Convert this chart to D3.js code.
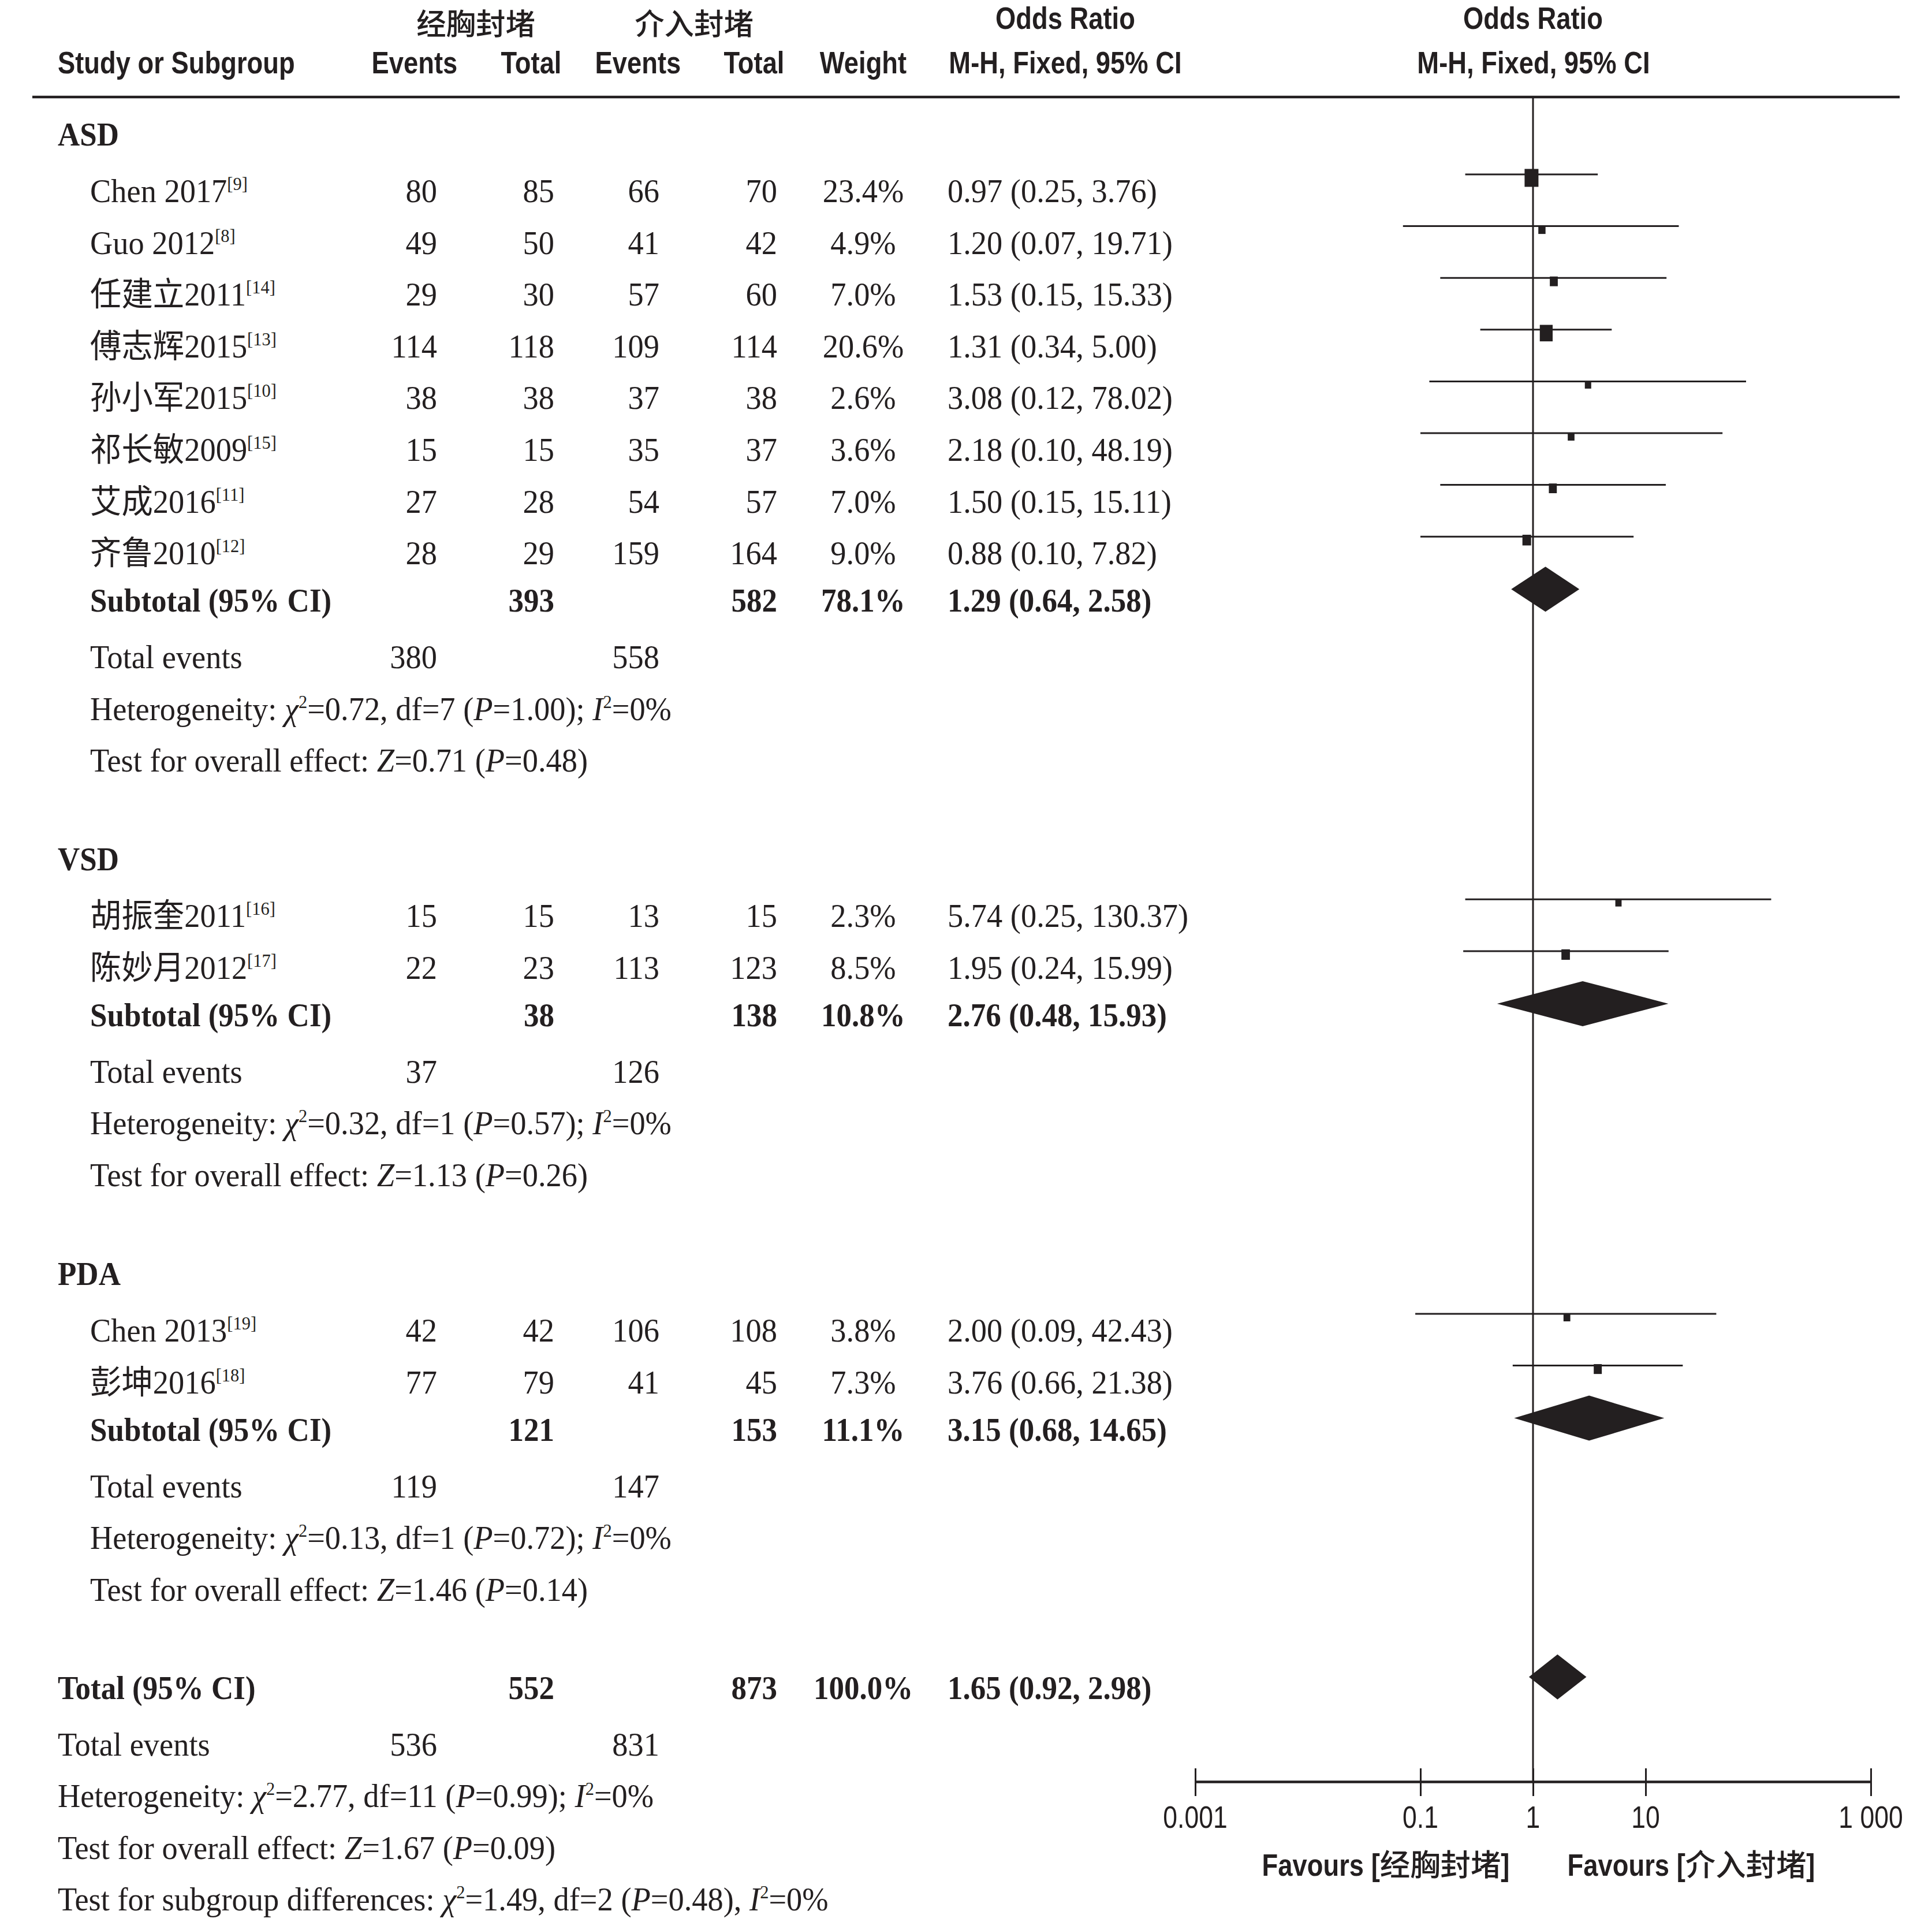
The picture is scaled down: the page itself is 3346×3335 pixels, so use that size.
<!DOCTYPE html>
<html><head><meta charset="utf-8">
<script src="https://cdn.jsdelivr.net/npm/d3@7"></script>
<style>body{margin:0;background:#fff} svg{display:block}</style>
</head><body>
<svg id="chart" width="3346" height="3335"></svg>
<script>
// ---------------- DATA ----------------
const groups = ["ASD", "VSD", "PDA"];
const studyNames = ["Chen 2017", "Guo 2012", "任建立2011", "傅志辉2015", "孙小军2015", "祁长敏2009", "艾成2016", "齐鲁2010", "胡振奎2011", "陈妙月2012", "Chen 2013", "彭坤2016"];
const studyRefs = ["9", "8", "14", "13", "10", "15", "11", "12", "16", "17", "19", "18"];
const studyGroup = ["ASD", "ASD", "ASD", "ASD", "ASD", "ASD", "ASD", "ASD", "VSD", "VSD", "PDA", "PDA"];
const expEvents = [80, 49, 29, 114, 38, 15, 27, 28, 15, 22, 42, 77];
const expTotal = [85, 50, 30, 118, 38, 15, 28, 29, 15, 23, 42, 79];
const ctlEvents = [66, 41, 57, 109, 37, 35, 54, 159, 13, 113, 106, 41];
const ctlTotal = [70, 42, 60, 114, 38, 37, 57, 164, 15, 123, 108, 45];
const weights = [23.4, 4.9, 7.0, 20.6, 2.6, 3.6, 7.0, 9.0, 2.3, 8.5, 3.8, 7.3];
const orValues = [0.97, 1.20, 1.53, 1.31, 3.08, 2.18, 1.50, 0.88, 5.74, 1.95, 2.00, 3.76];
const ciLow = [0.25, 0.07, 0.15, 0.34, 0.12, 0.10, 0.15, 0.10, 0.25, 0.24, 0.09, 0.66];
const ciHigh = [3.76, 19.71, 15.33, 5.00, 78.02, 48.19, 15.11, 7.82, 130.37, 15.99, 42.43, 21.38];

const subExpTotal = [393, 38, 121];
const subCtlTotal = [582, 138, 153];
const subWeight = [78.1, 10.8, 11.1];
const subOR = [1.29, 2.76, 3.15];
const subLow = [0.64, 0.48, 0.68];
const subHigh = [2.58, 15.93, 14.65];
const subExpEvents = [380, 37, 119];
const subCtlEvents = [558, 126, 147];
const subChi2 = ["0.72", "0.32", "0.13"];
const subDf = ["7", "1", "1"];
const subHetP = ["1.00", "0.57", "0.72"];
const subI2 = ["0%", "0%", "0%"];
const subZ = ["0.71", "1.13", "1.46"];
const subZP = ["0.48", "0.26", "0.14"];

const totalExpTotal = 552, totalCtlTotal = 873, totalWeight = 100.0;
const totalOR = 1.65, totalLow = 0.92, totalHigh = 2.98;
const totalExpEvents = 536, totalCtlEvents = 831;
const totalChi2 = "2.77", totalDf = "11", totalHetP = "0.99", totalI2 = "0%";
const totalZ = "1.67", totalZP = "0.09";
const diffChi2 = "1.49", diffDf = "2", diffP = "0.48", diffI2 = "0%";

const axisTicks = [0.001, 0.1, 1, 10, 1000];
const axisTickLabels = ["0.001", "0.1", "1", "10", "1 000"];
const groupA = "经胸封堵", groupB = "介入封堵";

// ---------------- SETUP ----------------
const W = 3346, H = 3335;
const ink = "#231f20";
const svg = d3.select("#chart");
svg.append("rect").attr("width", W).attr("height", H).attr("fill", "#fff");

const SERIF = "'Liberation Serif','Times New Roman','Noto Sans CJK SC',serif";
const SANS = "'Liberation Sans',Arial,sans-serif";
const CJK = "'Noto Sans CJK SC','Noto Sans CJK JP',sans-serif";
const FS = 57;

const x = d3.scaleLog().domain([0.001, 1000]).range([2070, 3240]);
const sqW = d3.scaleLinear().domain([0, 25]).range([9.4, 25]);
const sqH = d3.scaleLinear().domain([0, 25]).range([10.75, 32.4]);

const col = {name: 156, left: 100, e1: 757, t1: 960, e2: 1142, t2: 1346, wt: 1495, or: 1641};

function sansLine(px, py, segs, anchor, size, weight) {
  const g = svg.append("g");
  let cx = 0; const items = [];
  segs.forEach(s => {
    const sx = s.cjk ? 1 : 0.84;
    const t = g.append("text")
      .attr("font-family", s.cjk ? CJK : SANS)
      .attr("font-weight", s.cjk ? 500 : weight)
      .attr("font-size", s.cjk ? size * 0.97 : size).attr("fill", ink)
      .style("white-space", "pre").text(s.t);
    const w = t.node().getComputedTextLength() * sx;
    items.push({t, sx, off: cx}); cx += w;
  });
  const start = anchor === "middle" ? px - cx / 2 : anchor === "end" ? px - cx : px;
  items.forEach(it => it.t.attr("transform", `translate(${start + it.off},${py}) scale(${it.sx},1)`));
}

function serifLine(px, py, segs, anchor, bold) {
  const sx = bold ? 0.93 : 0.955;
  const t = svg.append("text")
    .attr("transform", `translate(${px},${py}) scale(${sx},1)`)
    .attr("font-family", SERIF).attr("font-size", FS).attr("fill", ink)
    .attr("text-anchor", anchor || "start").attr("font-weight", bold ? 700 : 400)
    .style("white-space", "pre");
  let raised = false;
  segs.forEach(s => {
    if (typeof s === "string") s = {t: s};
    const sp = t.append("tspan").text(s.t);
    if (s.i) sp.attr("font-style", "italic");
    if (s.sup) { sp.attr("font-size", FS * 0.56).attr("dy", -21); raised = true; }
    else if (raised) { sp.attr("dy", 21); raised = false; }
  });
  return t;
}

const fmt2 = d3.format(".2f");
const fmtW = d => d3.format(".1f")(d) + "%";
const orText = (o, l, h) => `${fmt2(o)} (${fmt2(l)}, ${fmt2(h)})`;

// ---------------- HEADER ----------------
sansLine(824, 60, [{t: groupA, cjk: true}], "middle", 53, 700);
sansLine(1202, 60, [{t: groupB, cjk: true}], "middle", 53, 700);
sansLine(1845, 50, [{t: "Odds Ratio"}], "middle", 54, 700);
sansLine(2655, 50, [{t: "Odds Ratio"}], "middle", 54, 700);
sansLine(100, 127, [{t: "Study or Subgroup"}], "start", 54, 700);
sansLine(718, 127, [{t: "Events"}], "middle", 54, 700);
sansLine(920, 127, [{t: "Total"}], "middle", 54, 700);
sansLine(1105, 127, [{t: "Events"}], "middle", 54, 700);
sansLine(1306, 127, [{t: "Total"}], "middle", 54, 700);
sansLine(1495, 127, [{t: "Weight"}], "middle", 54, 700);
sansLine(1845, 127, [{t: "M-H, Fixed, 95% CI"}], "middle", 54, 700);
sansLine(2656, 127, [{t: "M-H, Fixed, 95% CI"}], "middle", 54, 700);

svg.append("line").attr("x1", 56).attr("x2", 3290).attr("y1", 168).attr("y2", 168)
  .attr("stroke", ink).attr("stroke-width", 4.5);

// ---------------- ROW LAYOUT ----------------
const rows = [];
let cy = 233;
groups.forEach((gname, gi) => {
  if (gi > 0) cy += 171;
  rows.push({type: "group", y: cy, g: gi});
  const idx = studyNames.map((d, i) => i).filter(i => studyGroup[i] === gname);
  idx.forEach((si, k) => { cy += k === 0 ? 98 : 89.6; rows.push({type: "study", y: cy, i: si}); });
  cy += 82; rows.push({type: "subtotal", y: cy, g: gi});
  cy += 98; rows.push({type: "events", y: cy, g: gi});
  cy += 89.3; rows.push({type: "het", y: cy, g: gi});
  cy += 89.8; rows.push({type: "test", y: cy, g: gi});
});
cy += 170; rows.push({type: "total", y: cy});
cy += 98; rows.push({type: "tevents", y: cy});
cy += 89.5; rows.push({type: "thet", y: cy});
cy += 89.5; rows.push({type: "ttest", y: cy});
cy += 89.5; rows.push({type: "tdiff", y: cy});

// vertical line at OR = 1
const axisY = 3085;
svg.append("line").attr("x1", x(1)).attr("x2", x(1)).attr("y1", 168).attr("y2", axisY)
  .attr("stroke", ink).attr("stroke-width", 3);

const marks = svg.append("g");
function diamond(o, l, h, yc) {
  const hh = 39;
  marks.append("path")
    .attr("d", `M${x(l)},${yc}L${x(o)},${yc - hh}L${x(h)},${yc}L${x(o)},${yc + hh}Z`)
    .attr("fill", ink);
}

rows.forEach(r => {
  const b = r.y + 19;
  if (r.type === "group") {
    serifLine(col.left, b, [groups[r.g]], "start", true);
  } else if (r.type === "study") {
    const i = r.i;
    serifLine(col.name, b, [studyNames[i], {t: `[${studyRefs[i]}]`, sup: true}]);
    serifLine(col.e1, b, [String(expEvents[i])], "end");
    serifLine(col.t1, b, [String(expTotal[i])], "end");
    serifLine(col.e2, b, [String(ctlEvents[i])], "end");
    serifLine(col.t2, b, [String(ctlTotal[i])], "end");
    serifLine(col.wt, b, [fmtW(weights[i])], "middle");
    serifLine(col.or, b, [orText(orValues[i], ciLow[i], ciHigh[i])]);
    const ly = r.y - 29;
    marks.append("line").attr("x1", x(ciLow[i])).attr("x2", x(ciHigh[i]))
      .attr("y1", ly).attr("y2", ly).attr("stroke", ink).attr("stroke-width", 3);
    const w = sqW(weights[i]), h = sqH(weights[i]);
    marks.append("rect").attr("x", x(orValues[i]) - w / 2).attr("y", ly + 6 - h / 2)
      .attr("width", w).attr("height", h).attr("fill", ink);
  } else if (r.type === "subtotal") {
    const g = r.g;
    serifLine(col.name, b, ["Subtotal (95% CI)"], "start", true);
    serifLine(col.t1, b, [String(subExpTotal[g])], "end", true);
    serifLine(col.t2, b, [String(subCtlTotal[g])], "end", true);
    serifLine(col.wt, b, [fmtW(subWeight[g])], "middle", true);
    serifLine(col.or, b, [orText(subOR[g], subLow[g], subHigh[g])], "start", true);
    diamond(subOR[g], subLow[g], subHigh[g], r.y - 20);
  } else if (r.type === "events") {
    serifLine(col.name, b, ["Total events"]);
    serifLine(col.e1, b, [String(subExpEvents[r.g])], "end");
    serifLine(col.e2, b, [String(subCtlEvents[r.g])], "end");
  } else if (r.type === "het") {
    const g = r.g;
    serifLine(col.name, b, ["Heterogeneity: ", {t: "χ", i: true}, {t: "2", sup: true},
      `=${subChi2[g]}, df=${subDf[g]} (`, {t: "P", i: true}, `=${subHetP[g]}); `,
      {t: "I", i: true}, {t: "2", sup: true}, `=${subI2[g]}`]);
  } else if (r.type === "test") {
    const g = r.g;
    serifLine(col.name, b, ["Test for overall effect: ", {t: "Z", i: true}, `=${subZ[g]} (`,
      {t: "P", i: true}, `=${subZP[g]})`]);
  } else if (r.type === "total") {
    serifLine(col.left, b, ["Total (95% CI)"], "start", true);
    serifLine(col.t1, b, [String(totalExpTotal)], "end", true);
    serifLine(col.t2, b, [String(totalCtlTotal)], "end", true);
    serifLine(col.wt, b, [fmtW(totalWeight)], "middle", true);
    serifLine(col.or, b, [orText(totalOR, totalLow, totalHigh)], "start", true);
    diamond(totalOR, totalLow, totalHigh, r.y - 19);
  } else if (r.type === "tevents") {
    serifLine(col.left, b, ["Total events"]);
    serifLine(col.e1, b, [String(totalExpEvents)], "end");
    serifLine(col.e2, b, [String(totalCtlEvents)], "end");
  } else if (r.type === "thet") {
    serifLine(col.left, b, ["Heterogeneity: ", {t: "χ", i: true}, {t: "2", sup: true},
      `=${totalChi2}, df=${totalDf} (`, {t: "P", i: true}, `=${totalHetP}); `,
      {t: "I", i: true}, {t: "2", sup: true}, `=${totalI2}`]);
  } else if (r.type === "ttest") {
    serifLine(col.left, b, ["Test for overall effect: ", {t: "Z", i: true}, `=${totalZ} (`,
      {t: "P", i: true}, `=${totalZP})`]);
  } else if (r.type === "tdiff") {
    serifLine(col.left, b, ["Test for subgroup differences: ", {t: "χ", i: true}, {t: "2", sup: true},
      `=${diffChi2}, df=${diffDf} (`, {t: "P", i: true}, `=${diffP}), `,
      {t: "I", i: true}, {t: "2", sup: true}, `=${diffI2}`]);
  }
});

// ---------------- AXIS ----------------
const axis = d3.axisBottom(x).tickValues(axisTicks)
  .tickFormat((d, i) => axisTickLabels[i]).tickSizeInner(25).tickSizeOuter(0);
const ag = svg.append("g").attr("transform", `translate(0,${axisY})`).call(axis);
ag.select(".domain").attr("stroke", ink).attr("stroke-width", 4.5);
ag.selectAll(".tick line").attr("stroke", ink).attr("stroke-width", 3).attr("y1", -23).attr("y2", 25);
ag.selectAll(".tick text").remove();
axisTicks.forEach((t, i) => sansLine(x(t), axisY + 80, [{t: axisTickLabels[i]}], "middle", 53, 400));

// favours labels
sansLine(2400, 3248, [{t: "Favours ["}, {t: groupA, cjk: true}, {t: "]"}], "middle", 54, 700);
sansLine(2929, 3248, [{t: "Favours ["}, {t: groupB, cjk: true}, {t: "]"}], "middle", 54, 700);
</script>
</body></html>
